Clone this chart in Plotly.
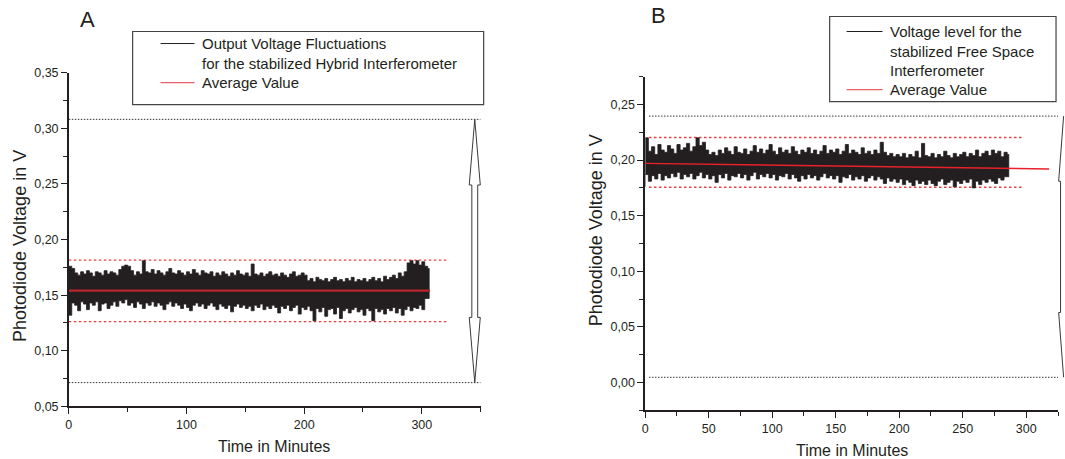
import plotly.graph_objects as go

W, H = 1065, 459
FONT = "Liberation Sans, Arial, sans-serif"
INK = "#231f20"

# ---------------- Panel A data ----------------
a_step = 2.5  # minutes between samples of the envelope
a_hi = [0.176, 0.174, 0.170, 0.168, 0.171, 0.169, 0.172, 0.170, 0.167, 0.171,
        0.170, 0.168, 0.172, 0.169, 0.171, 0.170, 0.168, 0.173, 0.176, 0.177,
        0.176, 0.172, 0.168, 0.171, 0.169, 0.181, 0.171, 0.170, 0.173, 0.169,
        0.172, 0.170, 0.168, 0.171, 0.174, 0.170, 0.169, 0.172, 0.170, 0.168,
        0.171, 0.169, 0.173, 0.170, 0.168, 0.172, 0.170, 0.169, 0.171, 0.167,
        0.170, 0.168, 0.171, 0.169, 0.167, 0.170, 0.168, 0.172, 0.169, 0.168,
        0.170, 0.167, 0.178, 0.169, 0.168, 0.170, 0.167, 0.169, 0.171, 0.168,
        0.169, 0.167, 0.170, 0.168, 0.166, 0.169, 0.171, 0.167, 0.168, 0.170,
        0.168, 0.163, 0.165, 0.162, 0.166, 0.164, 0.163, 0.165, 0.162, 0.164,
        0.166, 0.163, 0.164, 0.162, 0.165, 0.163, 0.166, 0.162, 0.164, 0.163,
        0.165, 0.162, 0.164, 0.166, 0.163, 0.165, 0.162, 0.167, 0.164, 0.166,
        0.168, 0.165, 0.170, 0.167, 0.171, 0.179, 0.181, 0.178, 0.181, 0.177,
        0.180, 0.176, 0.174]
a_lo = [0.145, 0.132, 0.143, 0.141, 0.136, 0.144, 0.142, 0.137, 0.143, 0.141,
        0.144, 0.136, 0.142, 0.143, 0.138, 0.141, 0.144, 0.140, 0.145, 0.143,
        0.146, 0.141, 0.143, 0.139, 0.144, 0.142, 0.138, 0.143, 0.141, 0.144,
        0.140, 0.143, 0.141, 0.137, 0.142, 0.144, 0.140, 0.143, 0.141, 0.138,
        0.142, 0.139, 0.136, 0.141, 0.143, 0.140, 0.142, 0.138, 0.141, 0.143,
        0.140, 0.137, 0.142, 0.140, 0.138, 0.141, 0.135, 0.140, 0.142, 0.139,
        0.141, 0.138, 0.140, 0.136, 0.141, 0.139, 0.142, 0.137, 0.140, 0.138,
        0.141, 0.139, 0.134, 0.140, 0.138, 0.141, 0.136, 0.139, 0.141, 0.133,
        0.139, 0.137, 0.140, 0.136, 0.127, 0.138, 0.135, 0.139, 0.131, 0.137,
        0.138, 0.133, 0.139, 0.129, 0.136, 0.138, 0.134, 0.137, 0.139, 0.135,
        0.137, 0.132, 0.138, 0.136, 0.127, 0.138, 0.135, 0.137, 0.133, 0.138,
        0.136, 0.139, 0.134, 0.138, 0.132, 0.137, 0.140, 0.136, 0.139, 0.138,
        0.141, 0.137, 0.147]
a_avg_t = [0, 307]
a_avg_v = [0.154, 0.154]
a_black_ref_v = [0.308, 0.0714]
a_black_ref_t = [0, 350]
a_red_ref_v = [0.1815, 0.1263]
a_red_ref_t = [0, 323]
a_xrange = [0, 350]
a_yrange = [0.05, 0.35]
a_xticks = [0, 100, 200, 300]
a_yticks = [0.05, 0.10, 0.15, 0.20, 0.25, 0.30, 0.35]
a_legend = ["Output Voltage Fluctuations", "for the stabilized Hybrid Interferometer", "Average Value"]

# ---------------- Panel B data ----------------
b_step = 2.5
b_hi = [0.220, 0.208, 0.212, 0.205, 0.214, 0.209, 0.207, 0.213, 0.210, 0.206,
        0.214, 0.209, 0.211, 0.215, 0.208, 0.212, 0.220, 0.213, 0.216, 0.209,
        0.205, 0.207, 0.204, 0.209, 0.206, 0.211, 0.208, 0.205, 0.212, 0.207,
        0.206, 0.210, 0.205, 0.208, 0.213, 0.207, 0.210, 0.206, 0.209, 0.214,
        0.208, 0.205, 0.211, 0.207, 0.209, 0.206, 0.212, 0.208, 0.205, 0.209,
        0.207, 0.211, 0.206, 0.209, 0.205, 0.208, 0.213, 0.206, 0.209, 0.207,
        0.210, 0.205, 0.208, 0.214, 0.206, 0.209, 0.207, 0.205, 0.211, 0.206,
        0.208, 0.205, 0.209, 0.206, 0.216, 0.207, 0.204, 0.206, 0.203, 0.205,
        0.203, 0.206, 0.202, 0.205, 0.203, 0.208, 0.202, 0.215, 0.204, 0.203,
        0.206, 0.202, 0.205, 0.203, 0.208, 0.204, 0.202, 0.206, 0.203, 0.205,
        0.207, 0.203, 0.206, 0.204, 0.209, 0.203, 0.206, 0.208, 0.204, 0.209,
        0.206, 0.208, 0.203, 0.207, 0.205]
b_lo = [0.176, 0.187, 0.181, 0.186, 0.183, 0.188, 0.182, 0.186, 0.184, 0.188,
        0.185, 0.189, 0.183, 0.187, 0.185, 0.188, 0.183, 0.186, 0.189, 0.184,
        0.187, 0.183, 0.186, 0.180, 0.187, 0.184, 0.188, 0.182, 0.186, 0.185,
        0.188, 0.184, 0.187, 0.182, 0.186, 0.189, 0.183, 0.187, 0.185, 0.188,
        0.184, 0.187, 0.182, 0.186, 0.185, 0.188, 0.183, 0.187, 0.184, 0.181,
        0.186, 0.183, 0.187, 0.184, 0.186, 0.182, 0.185, 0.188, 0.184, 0.186,
        0.183, 0.186, 0.180, 0.185, 0.184, 0.187, 0.182, 0.185, 0.183, 0.186,
        0.181, 0.184, 0.186, 0.182, 0.185, 0.183, 0.179, 0.184, 0.181, 0.183,
        0.180, 0.183, 0.178, 0.182, 0.180, 0.177, 0.182, 0.179, 0.181, 0.178,
        0.182, 0.179, 0.177, 0.181, 0.183, 0.178, 0.180, 0.182, 0.176, 0.181,
        0.179, 0.182, 0.180, 0.183, 0.175, 0.181, 0.178, 0.182, 0.180, 0.183,
        0.181, 0.179, 0.184, 0.182, 0.185]
b_avg_t = [0, 318]
b_avg_v = [0.197, 0.192]
b_black_ref_v = [0.2395, 0.0048]
b_black_ref_t = [3, 325]
b_red_ref_v = [0.2203, 0.1756]
b_red_ref_t = [3, 297]
b_xrange = [0, 325]
b_yrange = [-0.025, 0.275]
b_xticks = [0, 50, 100, 150, 200, 250, 300]
b_yticks = [0.00, 0.05, 0.10, 0.15, 0.20, 0.25]
b_legend = ["Voltage level for the", "stabilized Free Space", "Interferometer", "Average Value"]

# ---------------- layout geometry (pixels) ----------------
CY, K = 229.5, 1.034  # vertical placement correction


def Y(p):
    return CY + (p - CY) * K


A_BOX = dict(x0=66, x1=479, y0=Y(73), y1=Y(406))
B_BOX = dict(x0=644, x1=1058, y0=Y(77), y1=Y(410))


def dom_x(b):
    return [b["x0"] / W, b["x1"] / W]


def dom_y(b):
    return [1 - b["y1"] / H, 1 - b["y0"] / H]


def mapper(box, xr, yr):
    def fx(t):
        return (box["x0"] + (t - xr[0]) / (xr[1] - xr[0]) * (box["x1"] - box["x0"])) / W

    def fy(v):
        return 1 - (box["y1"] - (v - yr[0]) / (yr[1] - yr[0]) * (box["y1"] - box["y0"])) / H
    return fx, fy


def px(x):
    return x / W


def py(y):
    return 1 - Y(y) / H


def band(hi, lo, step):
    th = [i * step for i in range(len(hi))] + [len(hi) * step - step / 2]
    tl = [i * step for i in range(len(lo))] + [len(lo) * step - step / 2]
    hv = list(hi) + [hi[-1]]
    lv = list(lo) + [lo[-1]]
    return th + tl[::-1], hv + lv[::-1]


fig = go.Figure()


def add_panel(xa, ya, hi, lo, step, avg_t, avg_v, bref_t, bref_v, rref_t, rref_v, avg_color, avg_width):
    for v in bref_v:
        fig.add_trace(go.Scatter(x=bref_t, y=[v, v], mode="lines", xaxis=xa, yaxis=ya,
                                 line=dict(color="#333333", width=1, dash="1.5px,1.5px"),
                                 showlegend=False, hoverinfo="skip"))
    for v in rref_v:
        fig.add_trace(go.Scatter(x=rref_t, y=[v, v], mode="lines", xaxis=xa, yaxis=ya,
                                 line=dict(color="#e8403f", width=1.3, dash="2.5px,2.5px"),
                                 showlegend=False, hoverinfo="skip"))
    bx, by = band(hi, lo, step)
    fig.add_trace(go.Scatter(x=bx, y=by, mode="lines", xaxis=xa, yaxis=ya, fill="toself",
                             fillcolor=INK, line=dict(color=INK, width=0.8, shape="hv", simplify=False),
                             showlegend=False, hoverinfo="skip"))
    fig.add_trace(go.Scatter(x=avg_t, y=avg_v, mode="lines", xaxis=xa, yaxis=ya,
                             line=dict(color=avg_color, width=avg_width), showlegend=False))


add_panel("x", "y", a_hi, a_lo, a_step, a_avg_t, a_avg_v, a_black_ref_t, a_black_ref_v,
          a_red_ref_t, a_red_ref_v, "#b8262a", 2.2)
add_panel("x2", "y2", b_hi, b_lo, b_step, b_avg_t, b_avg_v, b_black_ref_t, b_black_ref_v,
          b_red_ref_t, b_red_ref_v, "#e8212a", 1.4)

axis_common = dict(showline=True, linecolor=INK, linewidth=1.5, ticks="outside", ticklen=6,
                   tickwidth=1.2, tickcolor=INK, showgrid=False, zeroline=False,
                   tickfont=dict(family=FONT, size=12.5, color=INK),
                   minor=dict(ticks="outside", ticklen=4, tickwidth=1.2, tickcolor=INK, showgrid=False))

fig.update_layout(
    width=W, height=H, margin=dict(l=0, r=0, t=0, b=0),
    paper_bgcolor="white", plot_bgcolor="white", separators=",.",
    showlegend=False,
    xaxis=dict(axis_common, domain=dom_x(A_BOX), range=a_xrange, tickvals=a_xticks,
               minor=dict(axis_common["minor"], dtick=50), anchor="y"),
    yaxis=dict(axis_common, domain=dom_y(A_BOX), range=a_yrange, tickvals=a_yticks,
               tickformat=".2f", minor=dict(axis_common["minor"], dtick=0.025, tick0=0), anchor="x"),
    xaxis2=dict(axis_common, domain=dom_x(B_BOX), range=b_xrange, tickvals=b_xticks,
                minor=dict(axis_common["minor"], dtick=25), anchor="y2"),
    yaxis2=dict(axis_common, domain=dom_y(B_BOX), range=b_yrange, tickvals=b_yticks,
                tickformat=".2f", minor=dict(axis_common["minor"], dtick=0.025, tick0=0.025), anchor="x2"),
)

shapes = []
annots = []


def text(x, y, s, size, angle=0, xanchor="center"):
    annots.append(dict(x=px(x), y=py(y), xref="paper", yref="paper", text=s, showarrow=False,
                       xanchor=xanchor, yanchor="middle", textangle=angle,
                       font=dict(family=FONT, size=size, color=INK)))


def seg(x0, y0, x1, y1, color, width):
    shapes.append(dict(type="line", xref="paper", yref="paper", x0=px(x0), y0=py(y0),
                       x1=px(x1), y1=py(y1), line=dict(color=color, width=width)))


# Legends
shapes.append(dict(type="rect", xref="paper", yref="paper", x0=px(130), x1=px(482), y0=py(32), y1=py(105),
                   line=dict(color="#444444", width=1.2), fillcolor="white"))
seg(158, 44, 192, 44, INK, 1)
seg(158, 83, 192, 83, "#e8606a", 1.2)
for txt, yy in zip(a_legend, [44, 64, 83]):
    text(198, yy, txt, 15, xanchor="left")

shapes.append(dict(type="rect", xref="paper", yref="paper", x0=px(829), x1=px(1056), y0=py(17), y1=py(102),
                   line=dict(color="#444444", width=1.2), fillcolor="white"))
seg(846, 32, 882, 32, INK, 1)
seg(846, 90, 882, 90, "#e8606a", 1.2)
for txt, yy in zip(b_legend, [32, 52, 71, 90]):
    text(887, yy, txt, 15, xanchor="left")

# Panel letters and axis titles
text(85, 20, "A", 22)
text(657, 16, "B", 22)
text(272, 446, "Time in Minutes", 16)
text(851, 450, "Time in Minutes", 16)
text(17, 246, "Photodiode Voltage in V", 18, angle=-90)
text(595, 230, "Photodiode Voltage in V", 18, angle=-90)

# Double arrow (panel A) spanning the black reference lines
fxa, fya = mapper(A_BOX, a_xrange, a_yrange)
arrow_t, head_half, shaft_half = 345, 4.7, 2.5
head_top_base, head_bot_base = 0.249, 0.130
top, bot = a_black_ref_v
pts = [(arrow_t, top), (arrow_t + head_half, head_top_base), (arrow_t + shaft_half, head_top_base),
       (arrow_t + shaft_half, head_bot_base), (arrow_t + head_half, head_bot_base), (arrow_t, bot),
       (arrow_t - head_half, head_bot_base), (arrow_t - shaft_half, head_bot_base),
       (arrow_t - shaft_half, head_top_base), (arrow_t - head_half, head_top_base)]
path = "M " + " L ".join(f"{fxa(t):.5f},{fya(v):.5f}" for t, v in pts) + " Z"
shapes.append(dict(type="path", xref="paper", yref="paper", path=path,
                   line=dict(color="#3a3a3a", width=1), fillcolor="white"))

# Brace (panel B) spanning the black reference lines
fxb, fyb = mapper(B_BOX, b_xrange, b_yrange)
btop, bbot = b_black_ref_v
bpts = [(329.4, btop), (325.5, 0.181), (327.0, 0.181), (327.0, 0.063), (325.5, 0.063), (329.4, bbot)]
bpath = "M " + " L ".join(f"{fxb(t):.5f},{fyb(v):.5f}" for t, v in bpts)
shapes.append(dict(type="path", xref="paper", yref="paper", path=bpath,
                   line=dict(color="#3a3a3a", width=1)))

fig.update_layout(shapes=shapes, annotations=annots)
fig.write_html("out.html")
